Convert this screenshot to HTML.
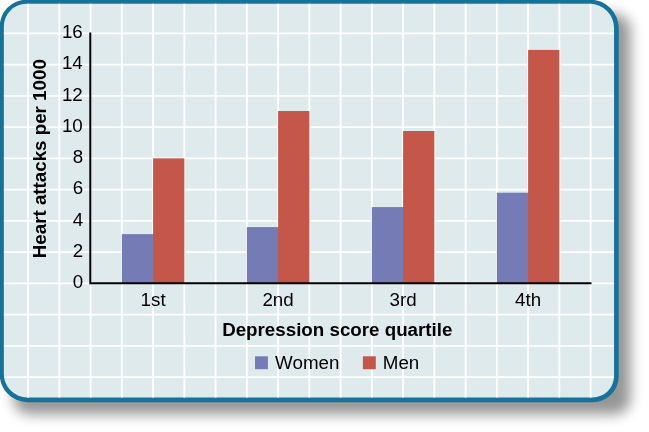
<!DOCTYPE html>
<html>
<head>
<meta charset="utf-8">
<title>Heart attacks by depression score quartile</title>
<style>
html,body{margin:0;padding:0;background:#fff;}
body{width:649px;height:432px;overflow:hidden;font-family:"Liberation Sans",sans-serif;}
svg{display:block;}
text{font-family:"Liberation Sans",sans-serif;fill:#000;}
.b{font-weight:bold;}
</style>
</head>
<body>
<svg width="649" height="432" viewBox="0 0 649 432">
  <defs>
    <filter id="sh" x="-10%" y="-10%" width="130%" height="130%">
      <feGaussianBlur stdDeviation="6.5"/>
    </filter>
    <clipPath id="panelclip">
      <path d="M26.35 3.85 H590.05 A24.00 24.00 0 0 1 614.05 27.85 V376.00 A21.50 21.50 0 0 1 592.55 397.50 H27.35 A23.50 23.50 0 0 1 3.85 374.00 V26.35 A22.50 22.50 0 0 1 26.35 3.85 Z"/>
    </clipPath>
  </defs>
  <rect x="0" y="0" width="649" height="432" fill="#ffffff"/>
  <rect x="13.5" y="14.0" width="617.0" height="400.5" rx="16" ry="16" fill="#000" opacity="0.41" filter="url(#sh)"/>
  <path d="M26.70 -0.30 H590.20 A28.50 28.50 0 0 1 618.70 28.20 V376.20 A26.00 26.00 0 0 1 592.70 402.20 H27.70 A28.00 28.00 0 0 1 -0.30 374.20 V26.70 A27.00 27.00 0 0 1 26.70 -0.30 Z" fill="#15729a"/>
  <path d="M26.35 3.85 H590.05 A24.00 24.00 0 0 1 614.05 27.85 V376.00 A21.50 21.50 0 0 1 592.55 397.50 H27.35 A23.50 23.50 0 0 1 3.85 374.00 V26.35 A22.50 22.50 0 0 1 26.35 3.85 Z" fill="#dfeaed"/>
  <g clip-path="url(#panelclip)" stroke="#ffffff" stroke-width="1.8" fill="none">
    <line x1="28.10" y1="0" x2="28.10" y2="405"/>
    <line x1="59.35" y1="0" x2="59.35" y2="405"/>
    <line x1="90.60" y1="0" x2="90.60" y2="405"/>
    <line x1="121.85" y1="0" x2="121.85" y2="405"/>
    <line x1="153.10" y1="0" x2="153.10" y2="405"/>
    <line x1="184.35" y1="0" x2="184.35" y2="405"/>
    <line x1="215.60" y1="0" x2="215.60" y2="405"/>
    <line x1="246.85" y1="0" x2="246.85" y2="405"/>
    <line x1="278.10" y1="0" x2="278.10" y2="405"/>
    <line x1="309.35" y1="0" x2="309.35" y2="405"/>
    <line x1="340.60" y1="0" x2="340.60" y2="405"/>
    <line x1="371.85" y1="0" x2="371.85" y2="405"/>
    <line x1="403.10" y1="0" x2="403.10" y2="405"/>
    <line x1="434.35" y1="0" x2="434.35" y2="405"/>
    <line x1="465.60" y1="0" x2="465.60" y2="405"/>
    <line x1="496.85" y1="0" x2="496.85" y2="405"/>
    <line x1="528.10" y1="0" x2="528.10" y2="405"/>
    <line x1="559.35" y1="0" x2="559.35" y2="405"/>
    <line x1="590.60" y1="0" x2="590.60" y2="405"/>
    <line x1="0" y1="2.10" x2="620" y2="2.10"/>
    <line x1="0" y1="33.35" x2="620" y2="33.35"/>
    <line x1="0" y1="64.60" x2="620" y2="64.60"/>
    <line x1="0" y1="95.85" x2="620" y2="95.85"/>
    <line x1="0" y1="127.10" x2="620" y2="127.10"/>
    <line x1="0" y1="158.35" x2="620" y2="158.35"/>
    <line x1="0" y1="189.60" x2="620" y2="189.60"/>
    <line x1="0" y1="220.85" x2="620" y2="220.85"/>
    <line x1="0" y1="252.10" x2="620" y2="252.10"/>
    <line x1="0" y1="283.35" x2="620" y2="283.35"/>
    <line x1="0" y1="314.60" x2="620" y2="314.60"/>
    <line x1="0" y1="345.85" x2="620" y2="345.85"/>
    <line x1="0" y1="377.10" x2="620" y2="377.10"/>
  </g>
  <rect x="121.85" y="234.13" width="32.25" height="49.22" fill="#757bb4"/>
  <rect x="153.10" y="158.35" width="31.25" height="125.00" fill="#c4574a"/>
  <rect x="246.85" y="227.10" width="32.25" height="56.25" fill="#757bb4"/>
  <rect x="278.10" y="111.01" width="31.25" height="172.34" fill="#c4574a"/>
  <rect x="371.85" y="207.10" width="32.25" height="76.25" fill="#757bb4"/>
  <rect x="403.10" y="131.01" width="31.25" height="152.34" fill="#c4574a"/>
  <rect x="496.85" y="192.73" width="32.25" height="90.62" fill="#757bb4"/>
  <rect x="528.10" y="49.91" width="31.25" height="233.44" fill="#c4574a"/>
  <path d="M90.30 32.40 V283.25 H591.50" fill="none" stroke="#000" stroke-width="2.0"/>
  <g opacity="0.999">
  <text x="83.30" y="288.00" font-size="18.75" text-anchor="end">0</text>
  <text x="83.30" y="256.75" font-size="18.75" text-anchor="end">2</text>
  <text x="83.30" y="225.50" font-size="18.75" text-anchor="end">4</text>
  <text x="83.30" y="194.25" font-size="18.75" text-anchor="end">6</text>
  <text x="83.30" y="163.00" font-size="18.75" text-anchor="end">8</text>
  <text x="82.75" y="131.75" font-size="18.75" text-anchor="end">10</text>
  <text x="82.75" y="100.50" font-size="18.75" text-anchor="end">12</text>
  <text x="82.75" y="69.25" font-size="18.75" text-anchor="end">14</text>
  <text x="82.75" y="38.00" font-size="18.75" text-anchor="end">16</text>
  <text x="153.10" y="305.75" font-size="18.75" text-anchor="middle">1st</text>
  <text x="278.10" y="305.75" font-size="18.75" text-anchor="middle">2nd</text>
  <text x="403.10" y="305.75" font-size="18.75" text-anchor="middle">3rd</text>
  <text x="528.10" y="305.75" font-size="18.75" text-anchor="middle">4th</text>
  <text class="b" x="337.30" y="335.50" font-size="18.75" text-anchor="middle">Depression score quartile</text>
  <text class="b" transform="translate(45.90 158.70) rotate(-90)" font-size="18.75" text-anchor="middle">Heart attacks per 1000</text>
  <rect x="255.00" y="356.30" width="12.90" height="12.90" fill="#757bb4"/>
  <text x="275.10" y="369.10" font-size="18.75">Women</text>
  <rect x="362.90" y="356.30" width="12.90" height="12.90" fill="#c4574a"/>
  <text x="382.80" y="369.10" font-size="18.75">Men</text>
  </g>
</svg>
</body>
</html>
